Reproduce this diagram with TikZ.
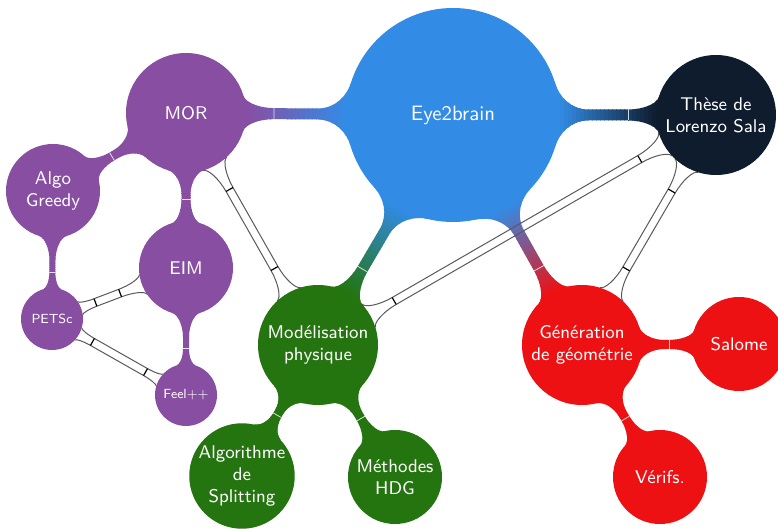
\documentclass[tikz,border=0pt]{standalone}
\usepackage{fontspec}
\definecolor{e2bblue}{HTML}{328CE6}
\definecolor{morpurple}{HTML}{884EA2}
\definecolor{thesenavy}{HTML}{0E1C2E}
\definecolor{modgreen}{HTML}{247410}
\definecolor{genred}{HTML}{ED1114}
\definecolor{linkgray}{HTML}{5A5A5A}
\pgfdeclarelayer{background}
\pgfsetlayers{background,main}

\newdimen\cbAx \newdimen\cbAy \newdimen\cbBx \newdimen\cbBy
\newdimen\cbRa \newdimen\cbRb

% Geometry of a bar joining two circular nodes, in a frame where the
% first node sits at the origin and the second one on the positive x axis.
% #1, #2: nodes; #3: half width of the bar (pt); #4: attach angle (deg)
\newcommand\bargeom[4]{%
  \pgfextractx{\cbAx}{\pgfpointanchor{#1}{center}}%
  \pgfextracty{\cbAy}{\pgfpointanchor{#1}{center}}%
  \pgfextractx{\cbBx}{\pgfpointanchor{#2}{center}}%
  \pgfextracty{\cbBy}{\pgfpointanchor{#2}{center}}%
  \pgfextractx{\cbRa}{\pgfpointanchor{#1}{east}}%
  \pgfextractx{\cbRb}{\pgfpointanchor{#2}{east}}%
  \advance\cbRa by -\cbAx
  \advance\cbRb by -\cbBx
  \pgfmathsetmacro\bAng{atan2(\cbBy-\cbAy,\cbBx-\cbAx)}%
  \pgfmathsetmacro\bD{veclen(\cbBx-\cbAx,\cbBy-\cbAy)}%
  \pgfmathsetmacro\bRa{\cbRa}%
  \pgfmathsetmacro\bRb{\cbRb}%
  \pgfmathsetmacro\bW{#3}%
  \pgfmathsetmacro\bGap{\bD-\bRa-\bRb}%
  \pgfmathsetmacro\bLa{min(14,0.5*\bRa,0.45*\bGap)}%
  \pgfmathsetmacro\bLb{min(14,0.5*\bRb,0.45*\bGap)}%
  \pgfmathsetmacro\pAx{\bRa*cos(#4)}%
  \pgfmathsetmacro\pAy{\bRa*sin(#4)}%
  \pgfmathsetmacro\pBx{\bD-\bRb*cos(#4)}%
  \pgfmathsetmacro\pBy{\bRb*sin(#4)}%
  \pgfmathsetmacro\qAx{\bRa+\bLa}%
  \pgfmathsetmacro\qBx{\bD-\bRb-\bLb}%
  \pgfmathsetmacro\kA{0.55*(\pAy-\bW)}%
  \pgfmathsetmacro\kB{0.55*(\pBy-\bW)}%
  \pgfmathsetmacro\cAx{\pAx+\kA*sin(#4)}%
  \pgfmathsetmacro\cAy{\pAy-\kA*cos(#4)}%
  \pgfmathsetmacro\cBx{\pBx-\kB*sin(#4)}%
  \pgfmathsetmacro\cBy{\pBy-\kB*cos(#4)}%
  \pgfmathsetmacro\dAx{\qAx-0.5*(\qAx-\pAx)}%
  \pgfmathsetmacro\dBx{\qBx+0.5*(\pBx-\qBx)}%
}

% Filled connection from a parent concept to a child concept,
% with the colour blending from one to the other across the gap.
% #1 parent, #2 child, #3 parent colour, #4 child colour, #5 half width
\newcommand\conceptlink[5]{%
  \bargeom{#1}{#2}{#5}{17}%
  \pgfmathsetmacro\gS{(\bD-\bRb-\bRa)/24}%
  \begin{scope}[shift={(#1.center)}, rotate=\bAng]
    \begin{scope}
      \clip (0pt,0pt) -- (\pAx pt,\pAy pt)
        .. controls (\cAx pt,\cAy pt) and (\dAx pt,\bW pt) .. (\qAx pt,\bW pt)
        -- (\qBx pt,\bW pt)
        .. controls (\dBx pt,\bW pt) and (\cBx pt,\cBy pt) .. (\pBx pt,\pBy pt)
        -- (\bD pt,0pt) -- (\pBx pt,-\pBy pt)
        .. controls (\cBx pt,-\cBy pt) and (\dBx pt,-\bW pt) .. (\qBx pt,-\bW pt)
        -- (\qAx pt,-\bW pt)
        .. controls (\dAx pt,-\bW pt) and (\cAx pt,-\cAy pt) .. (\pAx pt,-\pAy pt)
        -- cycle;
      \fill[#3] (-1pt,-60pt) rectangle (\bRa pt+0.3pt,60pt);
      \fill[#4] (\bD pt-\bRb pt-0.3pt,-60pt) rectangle (\bD pt+1pt,60pt);
      \foreach \i in {0,...,23}{%
        \pgfmathsetmacro\sx{\bRa+\gS*\i}%
        \pgfmathsetmacro\ex{\sx+\gS+0.3}%
        \pgfmathtruncatemacro\pc{100-100*(\i+0.5)/24}%
        \fill[#3!\pc!#4] (\sx pt,-60pt) rectangle (\ex pt,60pt);
      }
    \end{scope}
    \draw[white, opacity=0.8, line width=0.4pt]
      (\qBx pt,\bW pt) -- (\qBx pt,-\bW pt);
  \end{scope}
}

% Outlined cross link between two concepts
\newcommand\crosslink[2]{%
  \bargeom{#1}{#2}{2}{13}%
  \begin{scope}[shift={(#1.center)}, rotate=\bAng]
    \draw[linkgray, line width=0.5pt]
      (\pAx pt,\pAy pt)
        .. controls (\cAx pt,\cAy pt) and (\dAx pt,\bW pt) .. (\qAx pt,\bW pt)
        -- (\qBx pt,\bW pt)
        .. controls (\dBx pt,\bW pt) and (\cBx pt,\cBy pt) .. (\pBx pt,\pBy pt)
      (\pAx pt,-\pAy pt)
        .. controls (\cAx pt,-\cAy pt) and (\dAx pt,-\bW pt) .. (\qAx pt,-\bW pt)
        -- (\qBx pt,-\bW pt)
        .. controls (\dBx pt,-\bW pt) and (\cBx pt,-\cBy pt) .. (\pBx pt,-\pBy pt);
    \draw[black, line width=0.6pt]
      (\qAx pt,\bW pt) -- (\qAx pt,-\bW pt)
      (\qBx pt,\bW pt) -- (\qBx pt,-\bW pt);
  \end{scope}
}

\tikzset{
  cpt/.style={circle, inner sep=0pt, outer sep=0pt, align=center, text=white,
    font=\sffamily\fontsize{9.2}{11}\selectfont},
  rootcpt/.style={cpt, minimum size=107pt,
    font=\sffamily\fontsize{10.4}{12.5}\selectfont},
  lvone/.style={cpt, minimum size=60pt},
  lvtwo/.style={cpt, minimum size=47pt},
  lvthree/.style={cpt, minimum size=31pt,
    font=\sffamily\fontsize{6.6}{8}\selectfont},
}

\begin{document}
\begin{tikzpicture}[x=0.5pt, y=-0.5pt]
  \useasboundingbox (0,0) rectangle (778,529);

  % concepts
  \node[rootcpt, fill=e2bblue] (e2b) at (453,115) {Eye2brain};
  \node[lvone, fill=morpurple] (mor) at (186,113) {MOR};
  \node[lvone, fill=thesenavy] (these) at (716,115) {Thèse de\\Lorenzo Sala};
  \node[lvone, fill=modgreen] (modphys) at (318,345) {Modélisation\\physique};
  \node[lvone, fill=genred] (geomgen) at (582,345) {Génération\\de géométrie};

  \node[lvtwo, fill=morpurple] (greedy) at (53,191) {Algo\\Greedy};
  \node[lvtwo, fill=morpurple] (eim) at (186,268) {EIM};
  \node[lvthree, fill=morpurple] (petsc) at (52,319) {PETSc};
  \node[lvthree, fill=morpurple] (feelpp) at (186,395) {Feel++};

  \node[lvtwo, fill=modgreen, minimum size=52pt] (split) at (242,476) {Algorithme\\de\\Splitting};
  \node[lvtwo, fill=modgreen] (hdg) at (395,477) {Méthodes\\HDG};

  \node[lvtwo, fill=genred] (salome) at (739,344) {Salome};
  \node[lvtwo, fill=genred] (verifs) at (660,477) {Vérifs.};

  \begin{pgfonlayer}{background}
    \fill[white] (0,0) rectangle (778,529);

    % tree connections
    \conceptlink{e2b}{mor}{e2bblue}{morpurple}{2.75}
    \conceptlink{e2b}{these}{e2bblue}{thesenavy}{2.75}
    \conceptlink{e2b}{modphys}{e2bblue}{modgreen}{2.75}
    \conceptlink{e2b}{geomgen}{e2bblue}{genred}{2.75}
    \conceptlink{mor}{greedy}{morpurple}{morpurple}{2.25}
    \conceptlink{mor}{eim}{morpurple}{morpurple}{2.25}
    \conceptlink{greedy}{petsc}{morpurple}{morpurple}{1.5}
    \conceptlink{eim}{feelpp}{morpurple}{morpurple}{1.5}
    \conceptlink{modphys}{split}{modgreen}{modgreen}{2.25}
    \conceptlink{modphys}{hdg}{modgreen}{modgreen}{2.25}
    \conceptlink{geomgen}{salome}{genred}{genred}{2.25}
    \conceptlink{geomgen}{verifs}{genred}{genred}{2.25}

    % cross links
    \crosslink{mor}{modphys}
    \crosslink{petsc}{eim}
    \crosslink{petsc}{feelpp}
    \crosslink{modphys}{these}
    \crosslink{these}{geomgen}
  \end{pgfonlayer}
\end{tikzpicture}
\end{document}
